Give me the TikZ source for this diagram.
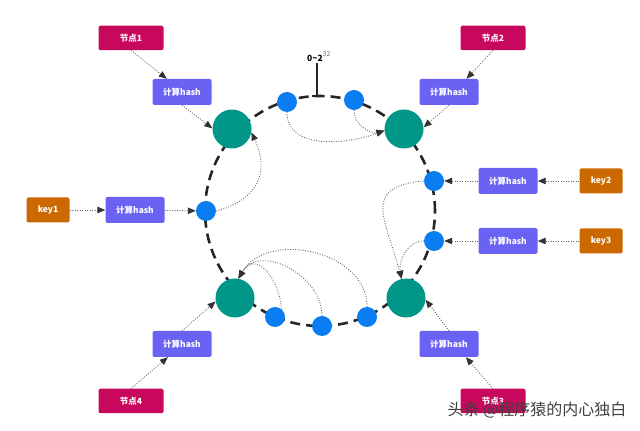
\documentclass[tikz,border=0pt]{standalone}
\usepackage{fontspec}
\setmainfont{Noto Sans CJK SC}
\usetikzlibrary{arrows.meta}

\definecolor{nodered}{RGB}{200,8,92}
\definecolor{hashblue}{RGB}{106,98,242}
\definecolor{keyorange}{RGB}{204,104,0}
\definecolor{serverteal}{RGB}{0,150,136}
\definecolor{pointblue}{RGB}{10,125,240}

\tikzset{
    server/.style={circle,fill=serverteal,minimum size=39pt,inner sep=0},
    point/.style={circle,fill=pointblue,minimum size=20pt,inner sep=0},
    basebox/.style={rectangle,rounded corners=2pt,text=white,inner sep=0,minimum height=25pt,font=\bfseries\fontsize{8.5}{9}\selectfont},
    nodebox/.style={basebox,fill=nodered,minimum width=65pt,minimum height=24.5pt},
    hashbox/.style={basebox,fill=hashblue,minimum width=59pt,minimum height=26pt},
    keybox/.style={basebox,fill=keyorange,minimum width=43pt},
    ring/.style={draw=black!85,line width=2.6pt,dash pattern=on 10pt off 6pt},
    flow/.style={draw=black!60,line width=0.9pt,dash pattern=on 0.9pt off 1.6pt,-{Triangle[length=8pt,width=6.5pt,color=black!80]}},
    tick/.style={draw=black!85,line width=2pt}
    }

\begin{document}
\begin{tikzpicture}[x=1pt,y=1pt]
                \useasboundingbox (0,0) rectangle (640,431);
                % The Ring
                \draw[ring] (320,220) circle (115);
                \coordinate (zero) at (317,335);
                \draw[tick] (zero) -- ++(0,33);
                \draw[tick] ([xshift=-5pt]zero) -- ([xshift=5pt]zero);
                \node[anchor=base west,inner sep=0] (range) at (307,369)
                    {{\bfseries\fontsize{8.5}{9}\selectfont 0\textasciitilde 2}\raisebox{5pt}{\fontsize{7}{7}\selectfont\color{black!55}32}};

                % The Servers
                \node[server] (s1) at (232,302) {};
                \node[server] (s2) at (404,302) {};
                \node[server] (s3) at (406,133) {};
                \node[server] (s4) at (235,133) {};

                % The Hashed Points
                \node[point] (p1) at (287,329) {};
                \node[point] (p2) at (354,331) {};
                \node[point] (p3) at (434,250) {};
                \node[point] (p4) at (434,190) {};
                \node[point] (p5) at (367,114) {};
                \node[point] (p6) at (322,105) {};
                \node[point] (p7) at (275,114) {};
                \node[point] (p8) at (206,220) {};

                % The Boxes
                \node[nodebox] (n1) at (131,393) {节点1};
                \node[nodebox] (n2) at (493,393) {节点2};
                \node[nodebox] (n3) at (493,30) {节点3};
                \node[nodebox] (n4) at (131,30) {节点4};
                \node[hashbox] (hn1) at (182,339) {计算hash};
                \node[hashbox] (hn2) at (449,339) {计算hash};
                \node[hashbox] (hn3) at (449,87) {计算hash};
                \node[hashbox] (hn4) at (182,87) {计算hash};
                \node[keybox] (k1) at (48,221) {key1};
                \node[hashbox] (hk1) at (135,221) {计算hash};
                \node[keybox] (k2) at (601,250) {key2};
                \node[hashbox] (hk2) at (508,250) {计算hash};
                \node[keybox] (k3) at (601,190) {key3};
                \node[hashbox] (hk3) at (508,190) {计算hash};

                % The Arrows
                \draw[flow] (n1.south) -- (hn1.139);
                \draw[flow] (hn1.south) -- (s1.178);
                \draw[flow] (n2.south) -- (hn2.37);
                \draw[flow] (hn2.south) -- (s2.5);
                \draw[flow] (n3.north) -- (hn3.-38);
                \draw[flow] (hn3.north) -- (s3.-5);
                \draw[flow] (n4.north) -- (hn4.223);
                \draw[flow] (hn4.north) -- (s4.190);
                \draw[flow] (k1) -- (hk1);
                \draw[flow] (hk1) -- (p8);
                \draw[flow] (k2) -- (hk2);
                \draw[flow] (hk2) -- (p3);
                \draw[flow] (k3) -- (hk3);
                \draw[flow] (hk3) -- (p4);

                % clockwise to the next server
                \draw[flow] (p1.south) to[out=-90,in=200] (s2.185);
                \draw[flow] (p2.south) to[out=-90,in=195] (s2.185);
                \draw[flow] (p8.east) to[out=15,in=-65,looseness=1.3] (s1.-10);
                \draw[flow] (p3.west) to[out=185,in=105,looseness=1.6] (s3.103);
                \draw[flow] (p4.west) to[out=180,in=100] (s3.103);
                \draw[flow] (p5.north) to[out=90,in=60,looseness=1.1] (s4.80);
                \draw[flow] (p6.north) to[out=90,in=60,looseness=1.15] (s4.80);
                \draw[flow] (p7.50) to[out=95,in=60,looseness=1.6] (s4.80);

                \node[text=black!75,font=\fontsize{16}{16}\selectfont] (mark) at (537,21) {头条 @程序猿的内心独白};
            \end{tikzpicture}
\end{document}
